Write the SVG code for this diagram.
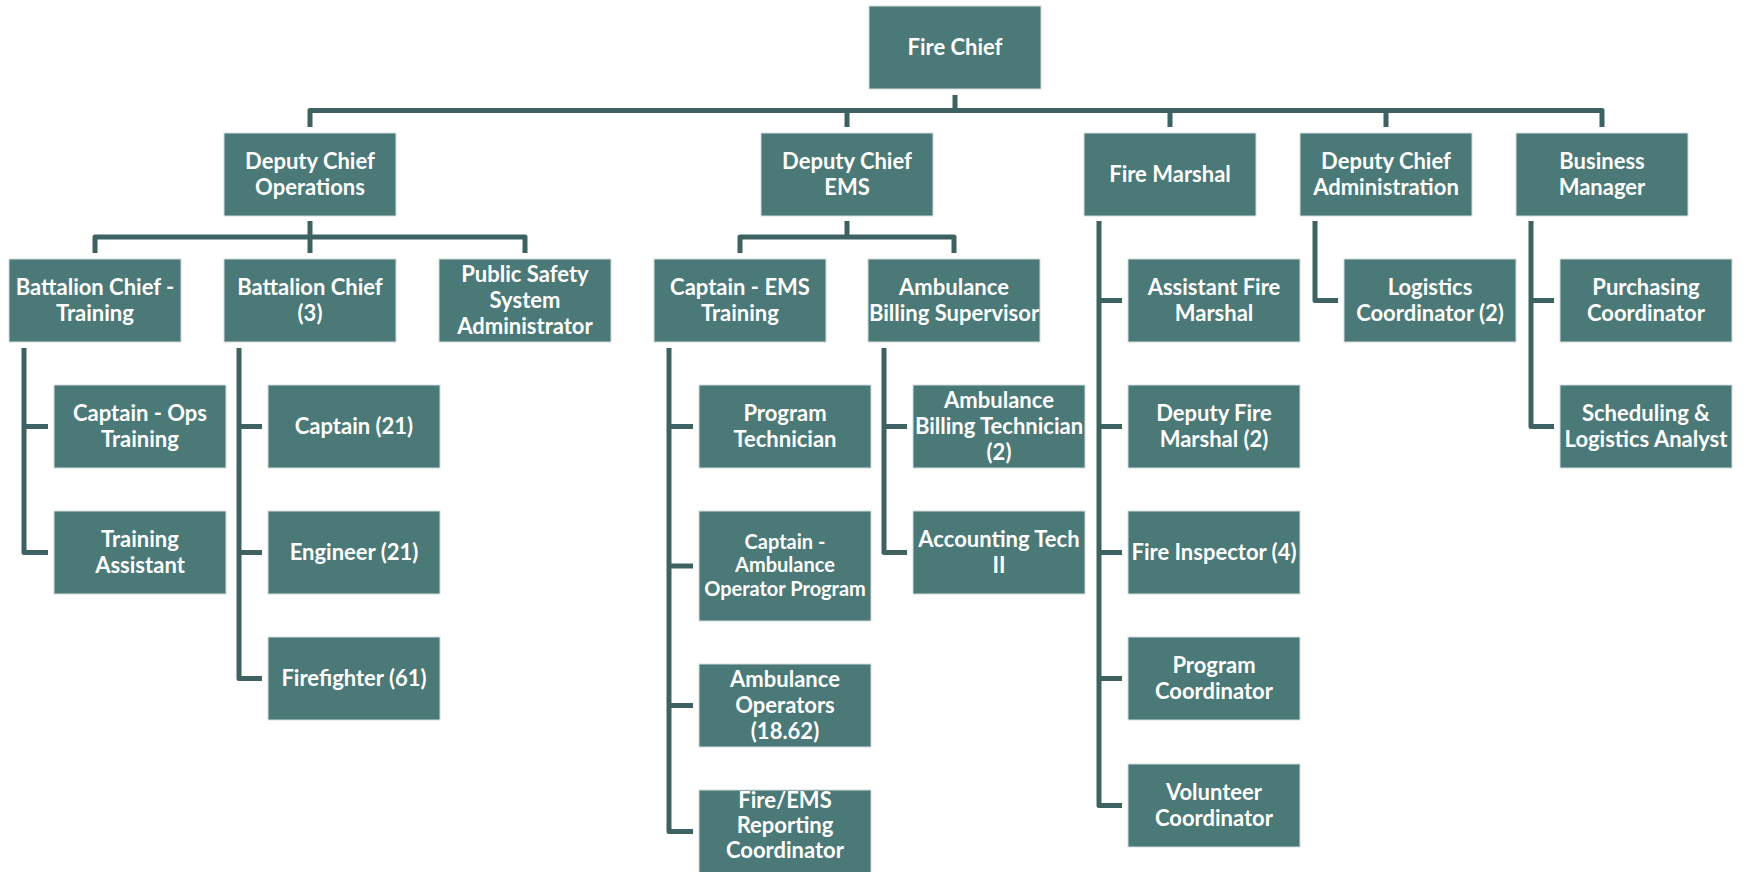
<svg xmlns="http://www.w3.org/2000/svg" width="1745" height="872" viewBox="0 0 1745 872">
<style>
.box{fill:#4A7978;stroke:#D2DCDB;stroke-width:1}
.t{font-family:Lato,"Liberation Sans",sans-serif;font-weight:700;font-size:22px;fill:#FFFFFF;text-anchor:middle}
.s{font-size:20px}
.c{fill:none;stroke:#3D6261;stroke-width:5;stroke-linejoin:round}
</style>
<rect width="1745" height="872" fill="#FFFFFF"/>
<g id="connectors">
<path class="c" d="M955 95V110.5"/>
<path class="c" d="M310 127V110.5H1602V127"/>
<path class="c" d="M847 110.5V127M1170 110.5V127M1386 110.5V127"/>
<path class="c" d="M310 221V253M95 253V237H525V253"/>
<path class="c" d="M847 221V237M740 253V237H954V253"/>
<path class="c" d="M24 348V552.5H48M24 426.5H48"/>
<path class="c" d="M239 348V678.5H262M239 426.5H262M239 552.5H262"/>
<path class="c" d="M669 348V831.5H693M669 426.5H693M669 566H693M669 705.5H693"/>
<path class="c" d="M884 348V552.5H907M884 426.5H907"/>
<path class="c" d="M1099 221V805.5H1122M1099 300.5H1122M1099 426.5H1122M1099 552.5H1122M1099 678.5H1122"/>
<path class="c" d="M1315 221V300.5H1338"/>
<path class="c" d="M1531 221V426.5H1554M1531 300.5H1554"/>
</g>
<g id="fire-chief"><rect class="box" x="869" y="6" width="172" height="83"/><text class="t" x="955" y="54.5">Fire Chief</text></g>
<g id="dc-ops"><rect class="box" x="224" y="133" width="172" height="83"/><text class="t" x="310"><tspan x="310" y="168.5">Deputy Chief</tspan><tspan x="310" y="194.5">Operations</tspan></text></g>
<g id="dc-ems"><rect class="box" x="761" y="133" width="172" height="83"/><text class="t" x="847"><tspan x="847" y="168.5">Deputy Chief</tspan><tspan x="847" y="194.5">EMS</tspan></text></g>
<g id="fire-marshal"><rect class="box" x="1084" y="133" width="172" height="83"/><text class="t" x="1170" y="181.5">Fire Marshal</text></g>
<g id="dc-admin"><rect class="box" x="1300" y="133" width="172" height="83"/><text class="t" x="1386"><tspan x="1386" y="168.5">Deputy Chief</tspan><tspan x="1386" y="194.5">Administration</tspan></text></g>
<g id="business-manager"><rect class="box" x="1516" y="133" width="172" height="83"/><text class="t" x="1602"><tspan x="1602" y="168.5">Business</tspan><tspan x="1602" y="194.5">Manager</tspan></text></g>
<g id="bc-training"><rect class="box" x="9" y="259" width="172" height="83"/><text class="t" x="95"><tspan x="95" y="294.5">Battalion Chief -</tspan><tspan x="95" y="320.5">Training</tspan></text></g>
<g id="battalion-chief"><rect class="box" x="224" y="259" width="172" height="83"/><text class="t" x="310"><tspan x="310" y="294.5">Battalion Chief</tspan><tspan x="310" y="320.5">(3)</tspan></text></g>
<g id="public-safety"><rect class="box" x="439" y="259" width="172" height="83"/><text class="t" x="525"><tspan x="525" y="281.5">Public Safety</tspan><tspan x="525" y="307.5">System</tspan><tspan x="525" y="333.5">Administrator</tspan></text></g>
<g id="captain-ems"><rect class="box" x="654" y="259" width="172" height="83"/><text class="t" x="740"><tspan x="740" y="294.5">Captain - EMS</tspan><tspan x="740" y="320.5">Training</tspan></text></g>
<g id="billing-supervisor"><rect class="box" x="868" y="259" width="172" height="83"/><text class="t" x="954"><tspan x="954" y="294.5">Ambulance</tspan><tspan x="954" y="320.5">Billing Supervisor</tspan></text></g>
<g id="assistant-fm"><rect class="box" x="1128" y="259" width="172" height="83"/><text class="t" x="1214"><tspan x="1214" y="294.5">Assistant Fire</tspan><tspan x="1214" y="320.5">Marshal</tspan></text></g>
<g id="logistics"><rect class="box" x="1344" y="259" width="172" height="83"/><text class="t" x="1430"><tspan x="1430" y="294.5">Logistics</tspan><tspan x="1430" y="320.5">Coordinator (2)</tspan></text></g>
<g id="purchasing"><rect class="box" x="1560" y="259" width="172" height="83"/><text class="t" x="1646"><tspan x="1646" y="294.5">Purchasing</tspan><tspan x="1646" y="320.5">Coordinator</tspan></text></g>
<g id="captain-ops"><rect class="box" x="54" y="385" width="172" height="83"/><text class="t" x="140"><tspan x="140" y="420.5">Captain - Ops</tspan><tspan x="140" y="446.5">Training</tspan></text></g>
<g id="training-assistant"><rect class="box" x="54" y="511" width="172" height="83"/><text class="t" x="140"><tspan x="140" y="546.5">Training</tspan><tspan x="140" y="572.5">Assistant</tspan></text></g>
<g id="captain-21"><rect class="box" x="268" y="385" width="172" height="83"/><text class="t" x="354" y="433.5">Captain (21)</text></g>
<g id="engineer"><rect class="box" x="268" y="511" width="172" height="83"/><text class="t" x="354" y="559.5">Engineer (21)</text></g>
<g id="firefighter"><rect class="box" x="268" y="637" width="172" height="83"/><text class="t" x="354" y="685.5">Firefighter (61)</text></g>
<g id="program-technician"><rect class="box" x="699" y="385" width="172" height="83"/><text class="t" x="785"><tspan x="785" y="420.5">Program</tspan><tspan x="785" y="446.5">Technician</tspan></text></g>
<g id="captain-ambulance"><rect class="box" x="699" y="511" width="172" height="110"/><text class="t s" x="785"><tspan x="785" y="548.5">Captain -</tspan><tspan x="785" y="572">Ambulance</tspan><tspan x="785" y="595.5">Operator Program</tspan></text></g>
<g id="ambulance-operators"><rect class="box" x="699" y="664" width="172" height="83"/><text class="t" x="785"><tspan x="785" y="686.5">Ambulance</tspan><tspan x="785" y="712.5">Operators</tspan><tspan x="785" y="738.5">(18.62)</tspan></text></g>
<g id="fire-ems-reporting"><rect class="box" x="699" y="790" width="172" height="90"/><text class="t" x="785"><tspan x="785" y="808">Fire/EMS</tspan><tspan x="785" y="833">Reporting</tspan><tspan x="785" y="858">Coordinator</tspan></text></g>
<g id="billing-technician"><rect class="box" x="913" y="385" width="172" height="83"/><text class="t" x="999"><tspan x="999" y="407.5">Ambulance</tspan><tspan x="999" y="433.5">Billing Technician</tspan><tspan x="999" y="459.5">(2)</tspan></text></g>
<g id="accounting-tech"><rect class="box" x="913" y="511" width="172" height="83"/><text class="t" x="999"><tspan x="999" y="546.5">Accounting Tech</tspan><tspan x="999" y="572.5">II</tspan></text></g>
<g id="deputy-fm"><rect class="box" x="1128" y="385" width="172" height="83"/><text class="t" x="1214"><tspan x="1214" y="420.5">Deputy Fire</tspan><tspan x="1214" y="446.5">Marshal (2)</tspan></text></g>
<g id="fire-inspector"><rect class="box" x="1128" y="511" width="172" height="83"/><text class="t" x="1214" y="559.5">Fire Inspector (4)</text></g>
<g id="program-coordinator"><rect class="box" x="1128" y="637" width="172" height="83"/><text class="t" x="1214"><tspan x="1214" y="672.5">Program</tspan><tspan x="1214" y="698.5">Coordinator</tspan></text></g>
<g id="volunteer-coordinator"><rect class="box" x="1128" y="764" width="172" height="83"/><text class="t" x="1214"><tspan x="1214" y="799.5">Volunteer</tspan><tspan x="1214" y="825.5">Coordinator</tspan></text></g>
<g id="scheduling"><rect class="box" x="1560" y="385" width="172" height="83"/><text class="t" x="1646"><tspan x="1646" y="420.5">Scheduling &amp;</tspan><tspan x="1646" y="446.5">Logistics Analyst</tspan></text></g>
</svg>
